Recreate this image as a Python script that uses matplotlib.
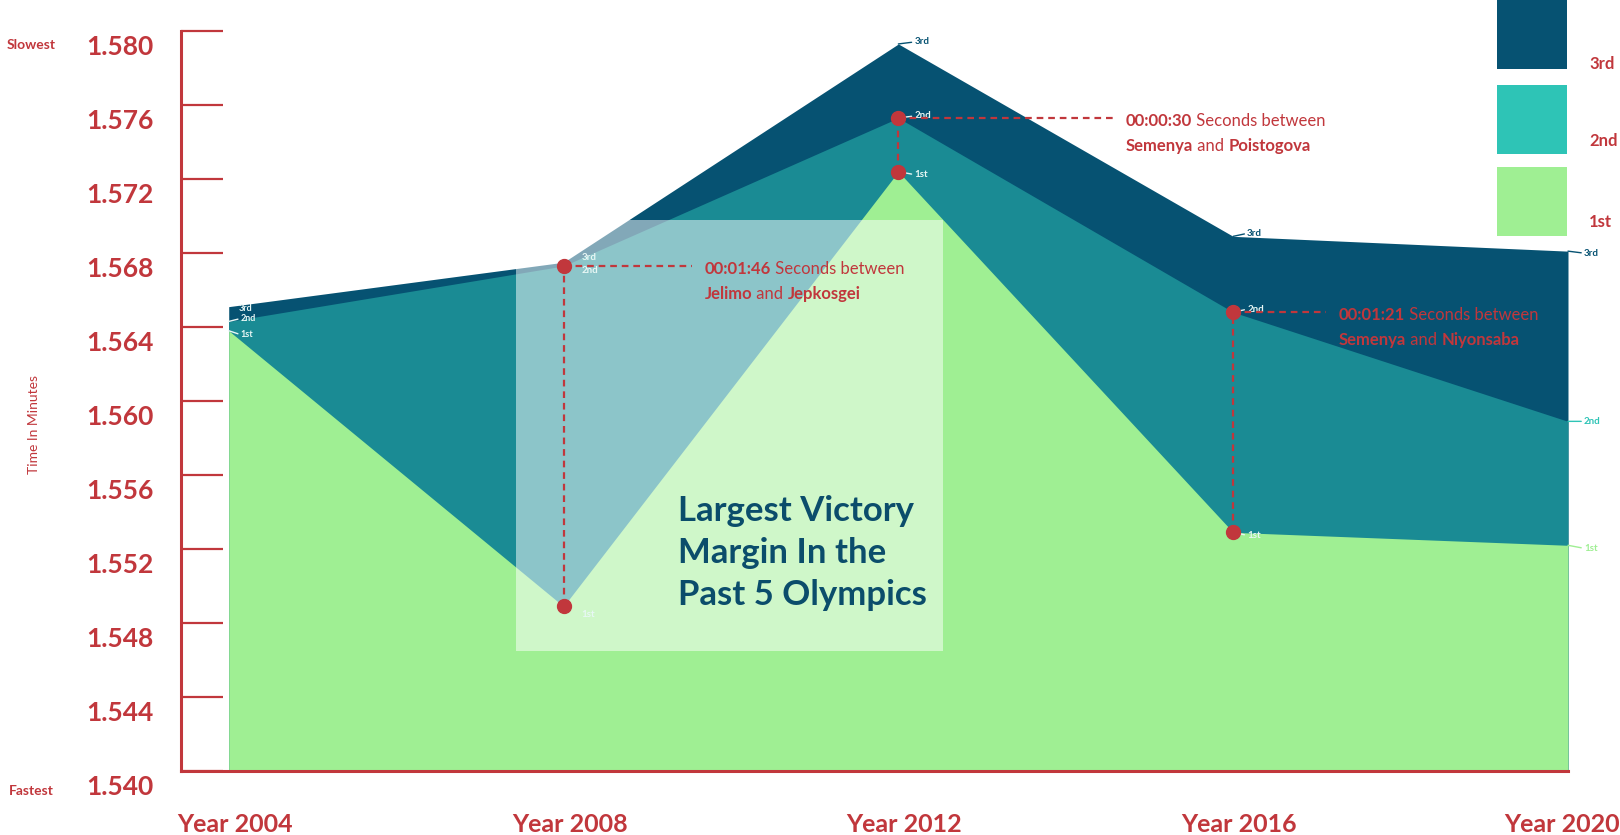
import matplotlib
matplotlib.use("Agg")
import matplotlib.pyplot as plt
from matplotlib.patches import Rectangle

plt.rcParams['font.family'] = ['Lato', 'DejaVu Sans']

## data (800m women, time in minutes)
years = [2004, 2008, 2012, 2016, 2020]
year_labels = ['Year 2004', 'Year 2008', 'Year 2012', 'Year 2016', 'Year 2020']
first = [1.5638, 1.5489, 1.5724, 1.5529, 1.5522]
second = [1.5643, 1.5673, 1.5753, 1.5648, 1.5589]
third = [1.5651, 1.5675, 1.5793, 1.5689, 1.5681]
yticks = [1.540, 1.544, 1.548, 1.552, 1.556, 1.560, 1.564, 1.568, 1.572, 1.576, 1.580]

## victory margin notes: year, gap, winner, runner-up, end of dashed line
gap_years = [2008, 2012, 2016]
gap_text = ['00:01:46', '00:00:30', '00:01:21']
gap_winner = ['Jelimo', 'Semenya', 'Semenya']
gap_runner = ['Jepkosgei', 'Poistogova', 'Niyonsaba']
gap_line_end = [2009.53, 2014.56, 2017.11]

RED = '#c1373c'
NAVY = '#065272'
TEAL = '#1a8b94'
TEAL_LIGHT = '#2ec4b6'
GREEN = '#9fef93'

fig = plt.figure(figsize=(16.2, 8.35), dpi=100)
ax = fig.add_axes([181/1620, 1-771/835, (1568-181)/1620, (771-31)/835])
ax.set_xlim(2003.43, 2020)
ax.set_ylim(1.540, 1.580)

## areas
ax.fill_between(years, 1.540, third, color=NAVY, lw=0, zorder=1)
ax.fill_between(years, 1.540, second, color=TEAL, lw=0, zorder=2)
ax.fill_between(years, 1.540, first, color=GREEN, lw=0, zorder=3)

## highlight box
ax.add_patch(Rectangle((2007.43, 1.5465), 5.1, 0.0233, facecolor='white',
                       alpha=0.5, lw=0, zorder=4))
ax.text(2009.37, 1.5518, 'Largest Victory\nMargin In the\nPast 5 Olympics', color='#0b4d6b',
        fontsize=25, fontweight='bold', ha='left', va='center', linespacing=1.38, zorder=6)

## spines / ticks
for s in ['top', 'right']:
    ax.spines[s].set_visible(False)
for s in ['left', 'bottom']:
    ax.spines[s].set_color(RED)
    ax.spines[s].set_linewidth(2.2)
    ax.spines[s].set_zorder(7)
ax.set_yticks(yticks)
ax.tick_params(axis='y', direction='in', length=30, width=1.6, color=RED, labelleft=False)
ax.set_xticks([])
for v in yticks:
    ax.annotate(f'{v:.3f}', xy=(0, v), xycoords=('axes fraction', 'data'),
                xytext=(-27, -16), textcoords='offset pixels', ha='right', va='center',
                color=RED, fontsize=19, fontweight='bold', annotation_clip=False)
for i, (yr, lab) in enumerate(zip(years, year_labels)):
    last = i == len(years) - 1
    ax.annotate(lab, xy=(yr, 0), xycoords=('data', 'axes fraction'),
                xytext=(52 if last else 6, -54), textcoords='offset pixels',
                ha='right' if last else 'center', va='center', color=RED,
                fontsize=18, fontweight='bold', annotation_clip=False)

fig.text(31/1620, 1-45/835, 'Slowest', color=RED, fontsize=10, fontweight='bold', ha='center', va='center')
fig.text(31/1620, 1-791/835, 'Fastest', color=RED, fontsize=10, fontweight='bold', ha='center', va='center')
fig.text(34/1620, 1-424/835, 'Time In Minutes', color=RED, fontsize=10, rotation=90, ha='center', va='center')

## small place labels
def place(x, y, txt, color, dx=14, dy=0, line=True, fs=7):
    ax.annotate(txt, xy=(x, y), xytext=(dx, dy), textcoords='offset pixels', ha='left', va='center',
                color=color, fontsize=fs, fontweight='bold', zorder=8, annotation_clip=False,
                arrowprops=dict(arrowstyle='-', color=color, lw=1, shrinkA=0, shrinkB=0,
                                relpos=(0, 0.5)) if line else None)

W = '#e8f7f5'
place(years[0], third[0], '3rd', W, dx=10, dy=-2, line=False, fs=6.5)
place(years[0], second[0], '2nd', W, dx=12, dy=3, fs=6.5)
place(years[0], first[0], '1st', W, dx=12, dy=-4, fs=6.5)
place(years[1], third[1], '3rd', W, dx=18, dy=5, line=False)
place(years[1], second[1], '2nd', W, dx=18, dy=-5, line=False)
place(years[1], first[1], '1st', W, dx=18, dy=-8, line=False)
place(years[2], third[2], '3rd', NAVY, dx=16, dy=2)
place(years[2], second[2], '2nd', W, dx=16, dy=2)
place(years[2], first[2], '1st', W, dx=16, dy=-3)
place(years[3], third[3], '3rd', NAVY, dx=14, dy=3)
place(years[3], second[3], '2nd', W, dx=14, dy=3)
place(years[3], first[3], '1st', W, dx=14, dy=-3)
place(years[4], third[4], '3rd', NAVY, dx=16, dy=-2)
place(years[4], second[4], '2nd', TEAL_LIGHT, dx=16, dy=0)
place(years[4], first[4], '1st', GREEN, dx=16, dy=-3)

## victory margin markers
for i, yr in enumerate(gap_years):
    k = years.index(yr)
    ax.plot([yr, yr], [first[k], second[k]], color=RED, lw=1.6, ls=(0, (3, 2.2)), zorder=9)
    ax.plot([yr, gap_line_end[i]], [second[k], second[k]], color=RED, lw=1.6, ls=(0, (3, 2.2)), zorder=9)
    ax.plot([yr, yr], [first[k], second[k]], 'o', color=RED, ms=10, zorder=10)
    t1 = ax.annotate(gap_text[i], xy=(gap_line_end[i], second[k]), xytext=(13, -3),
                     textcoords='offset pixels', ha='left', va='center', color=RED,
                     fontsize=12, fontweight='bold', zorder=10)
    ax.annotate(' Seconds between', xy=(1, 0), xycoords=t1, ha='left', va='bottom',
                color=RED, fontsize=12, zorder=10)
    t3 = ax.annotate(gap_winner[i], xy=(gap_line_end[i], second[k]), xytext=(13, -28),
                     textcoords='offset pixels', ha='left', va='center', color=RED,
                     fontsize=12, fontweight='bold', zorder=10)
    t4 = ax.annotate(' and ', xy=(1, 0), xycoords=t3, ha='left', va='bottom',
                     color=RED, fontsize=12, zorder=10)
    ax.annotate(gap_runner[i], xy=(1, 0), xycoords=t4, ha='left', va='bottom',
                color=RED, fontsize=12, fontweight='bold', zorder=10)

## legend
leg_colors = [NAVY, TEAL_LIGHT, GREEN]
leg_labels = ['3rd', '2nd', '1st']
leg_top = [0, 85, 167]
leg_text_y = [64, 141, 222]
for c, lab, top, ty in zip(leg_colors, leg_labels, leg_top, leg_text_y):
    fig.add_artist(Rectangle((1497/1620, 1-(top+69)/835), 70/1620, 69/835,
                             transform=fig.transFigure, color=c, lw=0))
    fig.text(1589/1620, 1-ty/835, lab, color=RED, fontsize=12, fontweight='bold', ha='left', va='center')

fig.savefig('out.png', dpi=100)
